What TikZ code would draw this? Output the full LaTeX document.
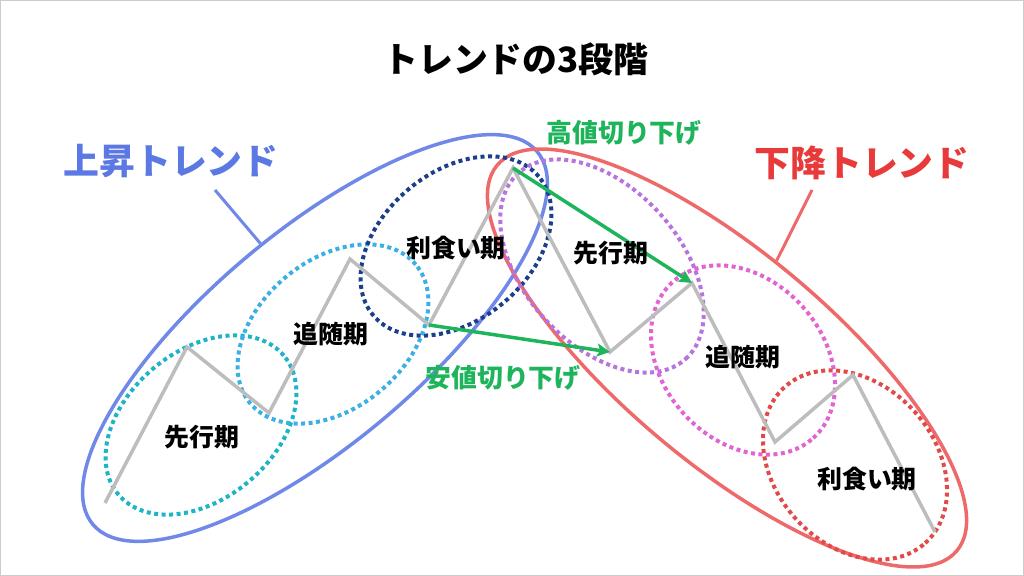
\documentclass[tikz,border=0pt]{standalone}
\usepackage{fontspec}
\setmainfont{Noto Sans CJK JP}
\usetikzlibrary{shapes.geometric,arrows.meta}
\definecolor{upblue}{HTML}{7088E8}
\definecolor{uptext}{HTML}{5B78E3}
\definecolor{dnred}{HTML}{EE6A6A}
\definecolor{dntext}{HTML}{E83A3A}
\definecolor{cyanA}{HTML}{1DB4C8}
\definecolor{blueB}{HTML}{3BB0E6}
\definecolor{navyC}{HTML}{1C3F8C}
\definecolor{purpA}{HTML}{B874DE}
\definecolor{magB}{HTML}{E064D2}
\definecolor{redC}{HTML}{E24A4A}
\definecolor{zig}{HTML}{BDBDBD}
\definecolor{trendgreen}{HTML}{1EB45C}
\tikzset{
  ring/.style={ellipse,inner sep=0pt,line width=3.5bp},
  dotring/.style={ellipse,inner sep=0pt,line width=4bp,dash pattern=on 4bp off 3.5bp},
  phase/.style={font=\bfseries\fontsize{25}{30}\selectfont},
  trendtag/.style={font=\bfseries\fontsize{36}{40}\selectfont},
  swingtag/.style={font=\bfseries\fontsize{26}{30}\selectfont,text=trendgreen},
  swing/.style={draw=trendgreen,line width=3.5bp,-{Stealth[length=13bp,width=13bp,inset=3bp]}},
}
\begin{document}
\begin{tikzpicture}[line join=miter]
    \useasboundingbox (0bp,0bp) rectangle (1024bp,576bp);
    \draw [gray!40,line width=1bp] (0.5bp,0.5bp) rectangle (1023.5bp,575.5bp);
    %% trend ellipses
    \node (upell) at (315bp,238bp) [ring,draw=upblue,minimum width=580bp,minimum height=212bp,rotate=40] {};
    \node (dnell) at (727bp,218bp) [ring,draw=dnred,minimum width=600bp,minimum height=210bp,rotate=-40] {};
    %% phase rings
    \node (upA) at (201bp,151bp) [dotring,draw=cyanA,minimum width=216bp,minimum height=148bp,rotate=40] {};
    \node (upB) at (333bp,242bp) [dotring,draw=blueB,minimum width=216bp,minimum height=148bp,rotate=40] {};
    \node (upC) at (456bp,330bp) [dotring,draw=navyC,minimum width=216bp,minimum height=148bp,rotate=40] {};
    \node (dnA) at (602bp,310bp) [dotring,draw=purpA,minimum width=250bp,minimum height=156bp,rotate=-48] {};
    \node (dnB) at (743bp,216bp) [dotring,draw=magB,minimum width=210bp,minimum height=160bp,rotate=-48] {};
    \node (dnC) at (855bp,111bp) [dotring,draw=redC,minimum width=210bp,minimum height=160bp,rotate=-48] {};
    %% price path
    \coordinate (u0) at (105bp,73bp);
    \coordinate (u1) at (187bp,229bp);
    \coordinate (u2) at (269bp,163bp);
    \coordinate (u3) at (350bp,317bp);
    \coordinate (u4) at (429bp,251bp);
    \coordinate (pk) at (513bp,408bp);
    \coordinate (d1) at (610bp,224bp);
    \coordinate (d2) at (692bp,293bp);
    \coordinate (d3) at (775bp,134bp);
    \coordinate (d4) at (853bp,201bp);
    \coordinate (d5) at (935bp,44bp);
    \draw [draw=zig,line width=3.5bp] (u0) -- (u1) -- (u2) -- (u3) -- (u4) -- (pk)
        -- (d1) -- (d2) -- (d3) -- (d4) -- (d5);
    \draw [swing] (pk) -- (d2);
    \draw [swing] (u4) -- (d1);
    %% labels
    \node (title) at (516bp,517bp) [font=\bfseries\fontsize{35}{40}\selectfont] {トレンドの3段階};
    \node (uptag) at (171bp,415bp) [trendtag,text=uptext] {上昇トレンド};
    \node (dntag) at (862bp,413bp) [trendtag,text=dntext] {下降トレンド};
    \node (hightag) at (624bp,443bp) [swingtag] {高値切り下げ};
    \node (lowtag) at (503bp,198bp) [swingtag] {安値切り下げ};
    \node (upAtag) at (202bp,139bp) [phase] {先行期};
    \node (upBtag) at (331bp,242bp) [phase] {追随期};
    \node (upCtag) at (456bp,328bp) [phase] {利食い期};
    \node (dnAtag) at (611bp,323bp) [phase] {先行期};
    \node (dnBtag) at (743bp,219bp) [phase] {追随期};
    \node (dnCtag) at (867bp,97bp) [phase] {利食い期};
    \coordinate (upfoot) at (215bp,386bp);
    \coordinate (dnfoot) at (812bp,386bp);
    \draw [draw=upblue,line width=3bp] (upfoot) -- (upell.80);
    \draw [draw=dnred,line width=3bp] (dnfoot) -- (dnell.103);
    %
\end{tikzpicture}
\end{document}
